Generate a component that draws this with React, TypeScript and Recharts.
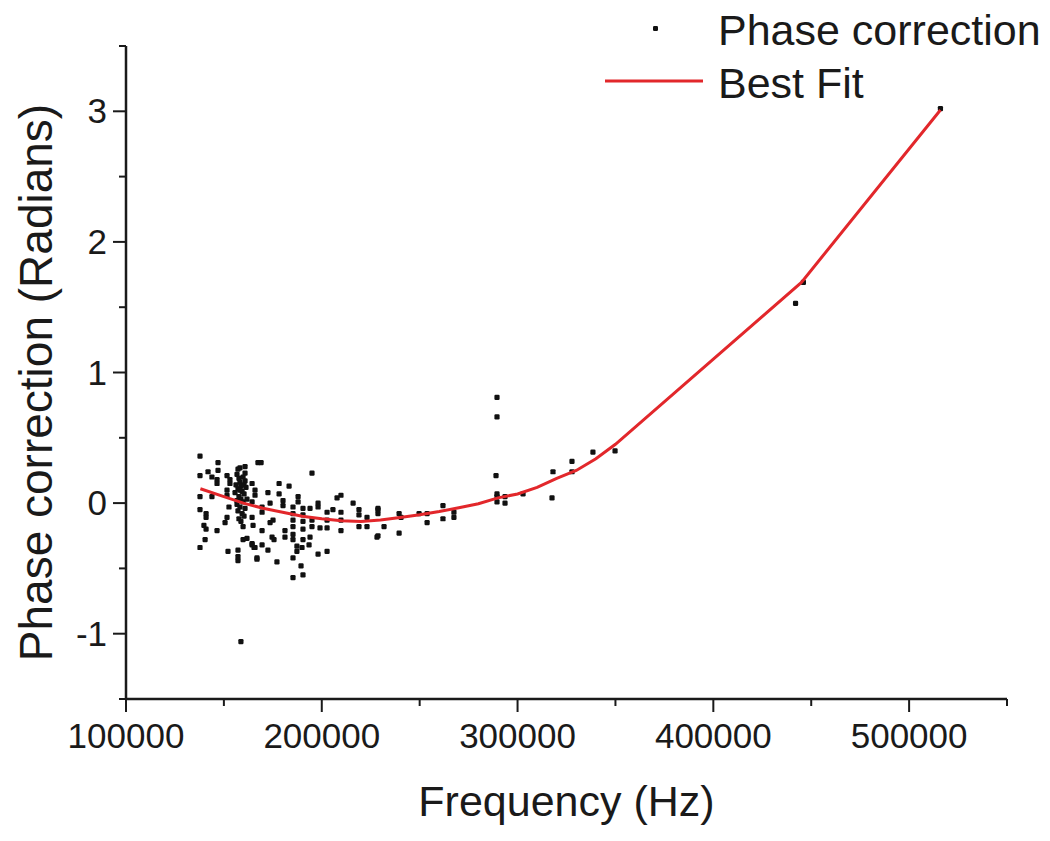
import React from "react";
import { Label, Scatter, ScatterChart, XAxis, YAxis } from "recharts";

// measured phase correction points (Hz, radians)
const freqHz = [
  137800, 147000, 147000, 141900, 137800, 143900, 146500, 146500, 151600, 153100,
  153100, 158200, 160800, 160800, 156700, 157700, 158200, 158700, 157200, 159300,
  160300, 157700, 158700, 159800, 156700, 158200, 160800, 157200, 159300, 160300,
  157700, 158700, 156200, 160800, 155700, 161300, 156700, 161800, 158200, 159800,
  157200, 160300, 164400, 167400, 137800, 143900, 151600, 151600, 137800, 140900,
  140900, 139800, 140900, 146500, 151600, 150600, 152600, 140400, 137800, 152100,
  157200, 157200, 157200, 159800, 161800, 164400, 165400, 166900, 159800, 164900,
  158700,
  169000, 195000, 165900, 165900, 172500, 178200, 178200, 183300, 180200, 180200,
  173600, 169500, 169500, 164400, 164400, 187900, 187900, 185300, 185300, 185300,
  185300, 185300, 185300, 190400, 190400, 190400, 190400, 194000, 195000, 195000,
  198100, 198100, 199100, 202700, 202700, 202700, 205700, 207800, 209800, 209800,
  209800, 209800, 216000, 219000, 219000, 219000, 223100, 223100, 228700, 228200,
  175100, 174600, 175600, 169500, 164400, 165900, 166900, 169500, 172500, 177100,
  185300, 187300, 187300, 189900, 190400, 194000, 193500, 198100, 202700, 189400,
  185300, 190400, 181200, 181200, 173600,
  228700, 228700, 231800, 228700, 239500, 240500, 239500, 249700, 253800, 253800,
  261900, 261900, 267500, 267500, 289500, 289500, 289000, 289500, 289500, 289500,
  293600, 293600, 302800, 317600, 318100, 327800, 327800, 338500, 349800,
  442000, 446000, 516000,
];
const phaseRad = [
  0.36, 0.31, 0.25, 0.24, 0.21, 0.2, 0.18, 0.15, 0.21, 0.18,
  0.15, 0.27, 0.28, 0.23, 0.22, 0.19, 0.16, 0.13, 0.11, 0.09,
  0.07, 0.05, 0.03, 0.01, -0.01, -0.03, -0.04, -0.06, -0.08, -0.1,
  -0.12, -0.14, 0.14, 0.17, 0.08, 0.12, 0.02, 0.03, 0.1, 0.2,
  0.26, 0.14, 0.15, 0.31, 0.05, 0.05, 0.1, 0.06, -0.05, -0.08,
  -0.11, -0.17, -0.2, -0.21, -0.11, -0.15, -0.03, -0.28, -0.34, -0.37,
  -0.36, -0.41, -0.44, -0.28, -0.27, -0.31, -0.34, -0.43, -0.18, -0.17,
  -1.06,
  0.31, 0.23, 0.1, 0.06, 0.08, 0.15, 0.07, 0.13, 0.02, -0.02,
  0.0, -0.03, -0.07, 0.01, -0.11, 0.05, 0.01, -0.03, -0.08, -0.13,
  -0.18, -0.28, -0.24, -0.04, -0.09, -0.14, -0.2, -0.04, -0.13, -0.18,
  0.0, -0.03, -0.19, -0.07, -0.13, -0.19, -0.05, 0.04, 0.06, -0.07,
  -0.13, -0.21, 0.0, -0.05, -0.09, -0.18, -0.11, -0.18, -0.05, -0.26,
  -0.13, -0.26, -0.28, -0.21, -0.32, -0.34, -0.42, -0.32, -0.36, -0.45,
  -0.42, -0.37, -0.33, -0.34, -0.28, -0.26, -0.32, -0.39, -0.37, -0.48,
  -0.57, -0.55, -0.21, -0.26, -0.15,
  -0.04, -0.08, -0.18, -0.25, -0.08, -0.11, -0.23, -0.08, -0.08, -0.15,
  -0.02, -0.12, -0.07, -0.11, 0.81, 0.66, 0.21, 0.07, 0.05, 0.01,
  0.05, 0.0, 0.07, 0.04, 0.24, 0.32, 0.24, 0.39, 0.4,
  1.53, 1.69, 3.02,
];

// best fit curve
const fitHz = [
  138000, 150000, 160000, 170000, 180000, 190000, 200000, 210000, 220000, 230000,
  240000, 250000, 260000, 270000, 280000, 290000, 300000, 310000, 320000, 330000,
  340000, 350000, 445000, 516000,
];
const fitRad = [
  0.11, 0.05, 0.0, -0.04, -0.07, -0.1, -0.12, -0.135, -0.14, -0.13,
  -0.11, -0.09, -0.065, -0.035, -0.005, 0.04, 0.07, 0.12, 0.19, 0.25,
  0.34, 0.45, 1.69, 3.01,
];

const freqTicks = [100000, 150000, 200000, 250000, 300000, 350000, 400000, 450000, 500000, 550000];
const phaseTicks = [-1.5, -1, -0.5, 0, 0.5, 1, 1.5, 2, 2.5, 3, 3.5];

const points = freqHz.map((x, i) => ({ x, y: phaseRad[i] }));
const fit = fitHz.map((x, i) => ({ x, y: fitRad[i] }));

const FONT = "'Liberation Sans', Arial, Helvetica, sans-serif";
const INK = "#1a1a1a";
const RED = "#e2272b";

function FreqTick({ x, y, payload }: any) {
  const major = payload.value % 100000 === 0;
  return (
    <g>
      <line x1={x} y1={y} x2={x} y2={y + (major ? 13 : 7)} stroke={INK} strokeWidth={2} />
      {major && (
        <text x={x} y={y + 49} textAnchor="middle" fontSize={35} fontFamily={FONT} fill={INK}>
          {payload.value}
        </text>
      )}
    </g>
  );
}

function PhaseTick({ x, y, payload }: any) {
  const major = Number.isInteger(payload.value);
  return (
    <g>
      <line x1={x} y1={y} x2={x - (major ? 13 : 7)} y2={y} stroke={INK} strokeWidth={2} />
      {major && (
        <text x={x - 19} y={y + 12} textAnchor="end" fontSize={35} fontFamily={FONT} fill={INK}>
          {payload.value}
        </text>
      )}
    </g>
  );
}

const Dot = ({ cx, cy }: any) => (
  <rect x={cx - 2.6} y={cy - 2.6} width={5.2} height={5.2} rx={1.2} fill="#111" />
);

export default function App() {
  return (
    <div style={{ position: "absolute", left: 0, top: 0, width: 1050, height: 841, background: "#fff" }}>
      <ScatterChart width={1050} height={841} margin={{ top: 46, right: 43, left: 66, bottom: 82 }}>
        <XAxis
          type="number"
          dataKey="x"
          domain={[100000, 550000]}
          ticks={freqTicks}
          height={60}
          tickSize={0}
          tickMargin={0}
          tickLine={false}
          tick={<FreqTick />}
          axisLine={{ stroke: INK, strokeWidth: 2.5 }}
          allowDataOverflow
          interval={0}
        >
          <Label
            content={({ viewBox }: any) => (
              <text
                x={viewBox.x + viewBox.width / 2}
                y={viewBox.y + viewBox.height + 57}
                textAnchor="middle"
                fontSize={43}
                fontFamily={FONT}
                fill={INK}
              >
                Frequency (Hz)
              </text>
            )}
          />
        </XAxis>
        <YAxis
          type="number"
          dataKey="y"
          domain={[-1.5, 3.5]}
          ticks={phaseTicks}
          width={60}
          tickSize={0}
          tickMargin={0}
          tickLine={false}
          tick={<PhaseTick />}
          axisLine={{ stroke: INK, strokeWidth: 2.5 }}
          allowDataOverflow
          interval={0}
        >
          <Label
            content={({ viewBox }: any) => {
              const cy = viewBox.y + viewBox.height / 2 + 10;
              return (
                <text
                  x={36}
                  y={cy}
                  transform={`rotate(-90, 36, ${cy})`}
                  textAnchor="middle"
                  dominantBaseline="central"
                  fontSize={46}
                  fontFamily={FONT}
                  fill={INK}
                >
                  Phase correction (Radians)
                </text>
              );
            }}
          />
        </YAxis>
        <Scatter name="Phase correction" data={points} shape={<Dot />} isAnimationActive={false} />
        <Scatter
          name="Best Fit"
          data={fit}
          line={{ stroke: RED, strokeWidth: 3 }}
          shape={() => <g />}
          isAnimationActive={false}
        />
      </ScatterChart>
      <svg width={1050} height={110} style={{ position: "absolute", left: 0, top: 0, pointerEvents: "none" }}>
        <rect x={653} y={26} width={5} height={5} rx={1.2} fill="#111" />
        <text x={718} y={30} dominantBaseline="central" fontSize={43} fontFamily={FONT} fill={INK}>
          Phase correction
        </text>
        <line x1={605} y1={81} x2={703} y2={81} stroke={RED} strokeWidth={3} />
        <text x={718} y={83} dominantBaseline="central" fontSize={43} fontFamily={FONT} fill={INK}>
          Best Fit
        </text>
      </svg>
    </div>
  );
}
